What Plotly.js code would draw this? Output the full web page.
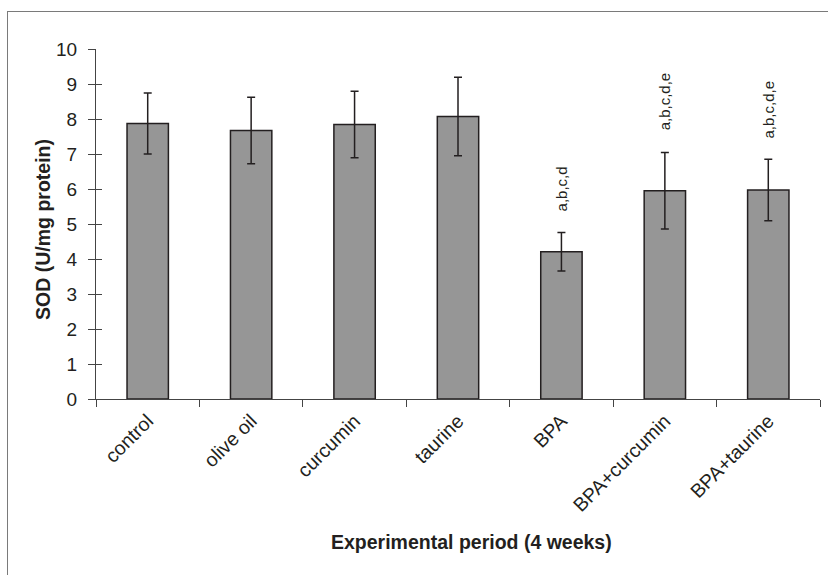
<!DOCTYPE html>
<html>
<head>
<meta charset="utf-8">
<script src="https://cdn.plot.ly/plotly-3.0.1.min.js"></script>
<style>
html,body{margin:0;padding:0;background:#fff;}
#wrap{position:relative;width:828px;height:575px;overflow:hidden;}
#frame{position:absolute;left:7px;top:11px;width:900px;height:700px;border:1.5px solid #7a7a7a;box-sizing:border-box;}
#chart{position:absolute;left:0;top:0;width:828px;height:575px;}
</style>
</head>
<body>
<div id="wrap"><div id="frame"></div><div id="chart"></div></div>
<script>
const categories = ["control","olive oil","curcumin","taurine","BPA","BPA+curcumin","BPA+taurine"];
const sodValues = [7.87, 7.67, 7.84, 8.07, 4.21, 5.95, 5.97];
const sodErrors = [0.87, 0.95, 0.95, 1.12, 0.55, 1.09, 0.88];
const sigLabels = ["", "", "", "", "a,b,c,d", "a,b,c,d,e", "a,b,c,d,e"];
const sigLabelY = [null, null, null, null, 6.0, 8.5, 8.28];
const xTitle = "Experimental period (4 weeks)";
const yTitle = "SOD (U/mg protein)";

const ink = "#231f20";
const trace = {
  type: "bar",
  x: categories,
  y: sodValues,
  width: 0.4,
  marker: {color: "#969696", line: {color: ink, width: 1.5}},
  error_y: {type: "data", array: sodErrors, visible: true, color: ink, thickness: 1.5, width: 4},
  hoverinfo: "x+y"
};
const overlay = {type: "scatter", x: categories, y: sodValues, yaxis: "y2", mode: "none", showlegend: false, hoverinfo: "skip"};

const annotations = [];
categories.forEach((c, i) => {
  if (sigLabels[i]) {
    annotations.push({x: c, y: sigLabelY[i], xref: "x", yref: "y", text: sigLabels[i], showarrow: false,
      textangle: -90, xanchor: "center", yanchor: "middle", font: {family: "Arial, Liberation Sans", size: 15, color: ink}});
  }
});
annotations.push({xref: "paper", yref: "paper", x: 0.519, y: -0.408, xanchor: "center", yanchor: "middle",
  text: "<b>" + xTitle + "</b>", showarrow: false, font: {size: 19.5, color: ink}});
annotations.push({xref: "paper", yref: "paper", x: -0.0732, y: 0.483, xanchor: "center", yanchor: "middle",
  textangle: -90, text: "<b>" + yTitle + "</b>", showarrow: false, font: {size: 19.5, color: ink}});

const layout = {
  width: 828, height: 575,
  margin: {l: 96, r: 8, t: 49, b: 176},
  paper_bgcolor: "rgba(0,0,0,0)",
  plot_bgcolor: "rgba(0,0,0,0)",
  showlegend: false,
  font: {family: "Arial, Liberation Sans", color: ink},
  xaxis: {
    type: "category",
    tickson: "boundaries",
    ticks: "outside", ticklen: 7, tickwidth: 1, tickcolor: "#444",
    showline: true, linecolor: "#444", linewidth: 1,
    tickangle: -45,
    ticklabelstandoff: 2,
    tickfont: {size: 19.5, color: ink},
    showgrid: false, zeroline: false
  },
  yaxis: {
    range: [0, 10], dtick: 1,
    ticks: "outside", ticklen: 7, tickwidth: 1, tickcolor: "#444",
    ticklabelstandoff: 7,
    showline: true, linecolor: "#444", linewidth: 1,
    tickfont: {size: 19, color: ink},
    showgrid: false, zeroline: false
  },
  yaxis2: {
    overlaying: "y", matches: "y", range: [0, 10], dtick: 1,
    ticks: "inside", ticklen: 6, tickwidth: 1, tickcolor: "#444",
    showticklabels: false, showgrid: false, zeroline: false, showline: false
  },
  annotations: annotations
};

Plotly.newPlot("chart", [trace, overlay], layout, {displayModeBar: false, staticPlot: true});
</script>
</body>
</html>
